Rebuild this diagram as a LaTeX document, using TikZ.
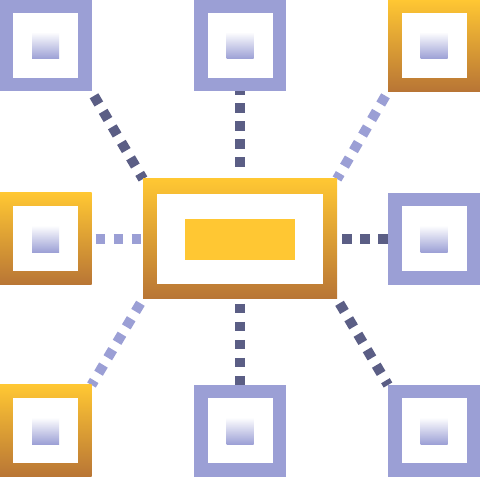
\documentclass[tikz,border=0pt]{standalone}
\usetikzlibrary{backgrounds}
\definecolor{lav}{HTML}{9B9FD5}
\definecolor{slate}{HTML}{5B5E85}
\definecolor{gold}{HTML}{FFC733}
\definecolor{rust}{HTML}{B87535}
\tikzset{
  tile/.style={minimum size=92pt, inner sep=0pt, outer sep=0pt,
    path picture={
      \fill[white] ([shift={(13.5pt,13.5pt)}]path picture bounding box.south west) rectangle ([shift={(-13.5pt,-13.5pt)}]path picture bounding box.north east);
      \shade[top color=white, bottom color=lav] ([shift={(-13.5pt,-13.5pt)}]path picture bounding box.center) rectangle ([shift={(13.5pt,13.5pt)}]path picture bounding box.center);
    }},
  lavtile/.style={tile, fill=lav},
  goldtile/.style={tile, top color=gold, bottom color=rust},
  hub/.style={minimum width=194pt, minimum height=120pt, inner sep=0pt, outer sep=0pt,
    top color=gold, bottom color=rust,
    path picture={
      \fill[white] ([shift={(14pt,15pt)}]path picture bounding box.south west) rectangle ([shift={(-14pt,-15pt)}]path picture bounding box.north east);
      \fill[gold] ([shift={(-55pt,-21.5pt)}]path picture bounding box.center) rectangle ([shift={(55pt,19.5pt)}]path picture bounding box.center);
    }},
  darklink/.style={draw=slate, line width=10pt, dash pattern=on 9.5pt off 8.5pt, dash phase=13pt},
  lightlink/.style={darklink, draw=lav},
}

\begin{document}
\begin{tikzpicture}[x=1pt,y=1pt]
    \useasboundingbox (0,0) rectangle (480,477);
    \node[hub] (C) at (240,238) {};
    \node[lavtile] (TL) at (45.5,431.5) {};
    \node[lavtile] (TC) at (240,431.5) {};
    \node[goldtile] (TR) at (434,431.5) {};
    \node[goldtile] (ML) at (45.5,238) {};
    \node[lavtile] (MR) at (434,238) {};
    \node[goldtile] (BL) at (45.5,46) {};
    \node[lavtile] (BC) at (240,46) {};
    \node[lavtile] (BR) at (434,46) {};
    \begin{pgfonlayer}{background}
        \draw[darklink] (TL.south east) -- (C.north west);
        \draw[darklink, dash phase=6pt, shorten >=4pt] (TC.south) -- (C.north);
        \draw[lightlink] (TR.south west) -- (C.north east);
        \draw[lightlink, dash phase=14pt] (ML.east) -- (C.west);
        \draw[darklink] (C.east) -- (MR.west);
        \draw[lightlink] (C.south west) -- (BL.north east);
        \draw[darklink] (C.south) -- (BC.north);
        \draw[darklink] (C.south east) -- (BR.north west);
    \end{pgfonlayer}
\end{tikzpicture}
\end{document}
